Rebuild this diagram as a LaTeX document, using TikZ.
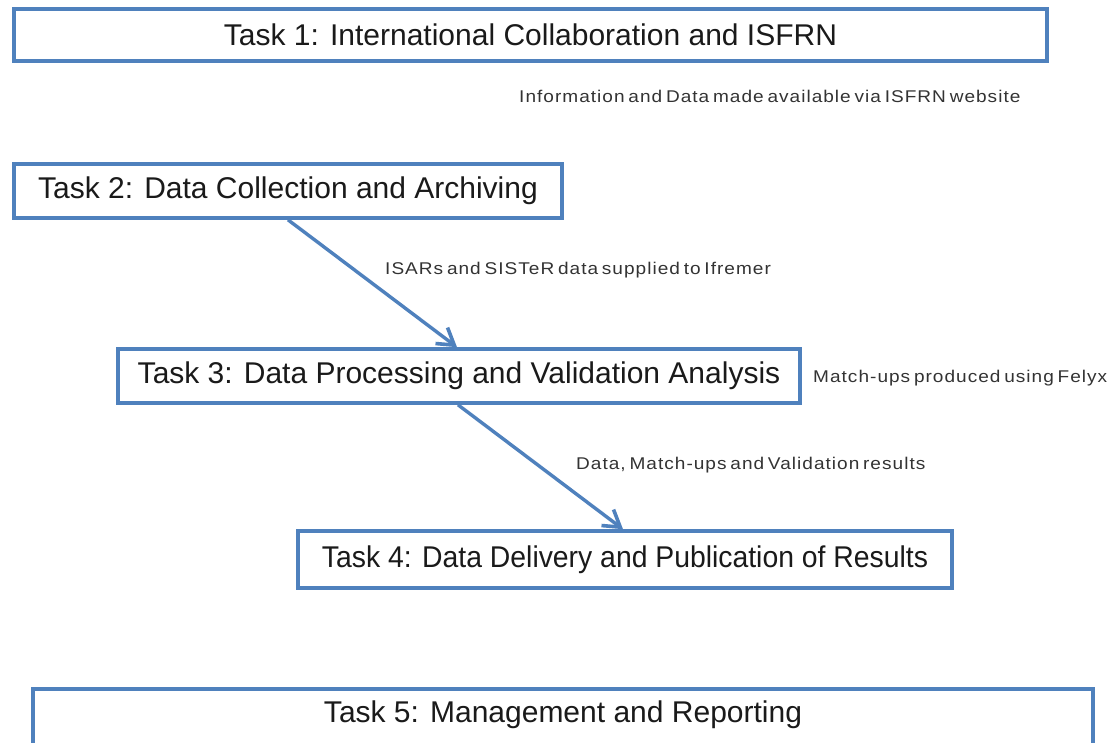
\documentclass[tikz,border=0pt]{standalone}
\usepackage{fontspec}
\usepackage{graphicx}
\setmainfont{Liberation Sans}
\newfontfamily\smallf[FakeStretch=1.12,LetterSpace=6,WordSpace=0.6]{Liberation Sans}
\usetikzlibrary{arrows.meta,calc}
\definecolor{taskblue}{HTML}{4F81BD}
\definecolor{titletext}{HTML}{1A1A1A}
\definecolor{notetext}{HTML}{333333}
\tikzset{
  taskbox/.style={draw=taskblue,line width=3.6pt,fill=white,inner sep=0pt,
    font=\fontsize{30}{32}\selectfont,text=titletext},
  note/.style={font=\smallf\fontsize{17}{19}\selectfont,text=notetext,inner sep=0pt},
  flow/.style={draw=taskblue,line width=3.4pt,
    arrows={-Straight Barb[length=16pt,width=20pt,line width=3.6pt]}}
}
\begin{document}
\begin{tikzpicture}[x=1pt,y=1pt]
\useasboundingbox (0,0) rectangle (1107,-742);
\clip (0,0) rectangle (1107,-742);
\fill[white] (0,0) rectangle (1107,-742);
\node[taskbox,minimum width=1033pt,minimum height=52pt] (t1) at (530.5,-35) {Task 1: International Collaboration and ISFRN};
\node[taskbox,minimum width=548pt,minimum height=54pt] (t2) at (288,-191) {Task 2: Data Collection and Archiving};
\node[taskbox,minimum width=682pt,minimum height=54pt] (t3) at (459,-376) {Task 3: Data Processing and Validation Analysis};
\node[taskbox,minimum width=654pt,minimum height=57pt] (t4) at (625,-559.5) {\scalebox{0.945}[1]{Task 4: Data Delivery and Publication of Results}};
\node[taskbox,minimum width=1060pt,minimum height=60pt] (t5) at (563,-719) {};
\node[font=\fontsize{30}{32}\selectfont,text=titletext,inner sep=0pt] (t5l) at (563,-715) {Task 5: Management and Reporting};

\node[note,anchor=west] (n1) at (519,-96) {Information and Data made available via ISFRN website};
\node[note,anchor=west] (n2) at (385,-270) {ISARs and SISTeR data supplied to Ifremer};
\node[note,anchor=west] (n3) at (813,-378) {Match-ups produced using Felyx};
\node[note,anchor=west] (n4) at (576,-465) {Data, Match-ups and Validation results};

\coordinate (a1s) at ($(t2.south)+(0,0)$);
\coordinate (a1e) at ($(t3.north)+(-2,0)$);
\coordinate (a2s) at ($(t3.south)+(-1,0)$);
\coordinate (a2e) at ($(t4.north)+(-2,0)$);
\draw[flow] (a1s) -- (a1e);
\draw[flow] (a2s) -- (a2e);
\end{tikzpicture}
\end{document}
